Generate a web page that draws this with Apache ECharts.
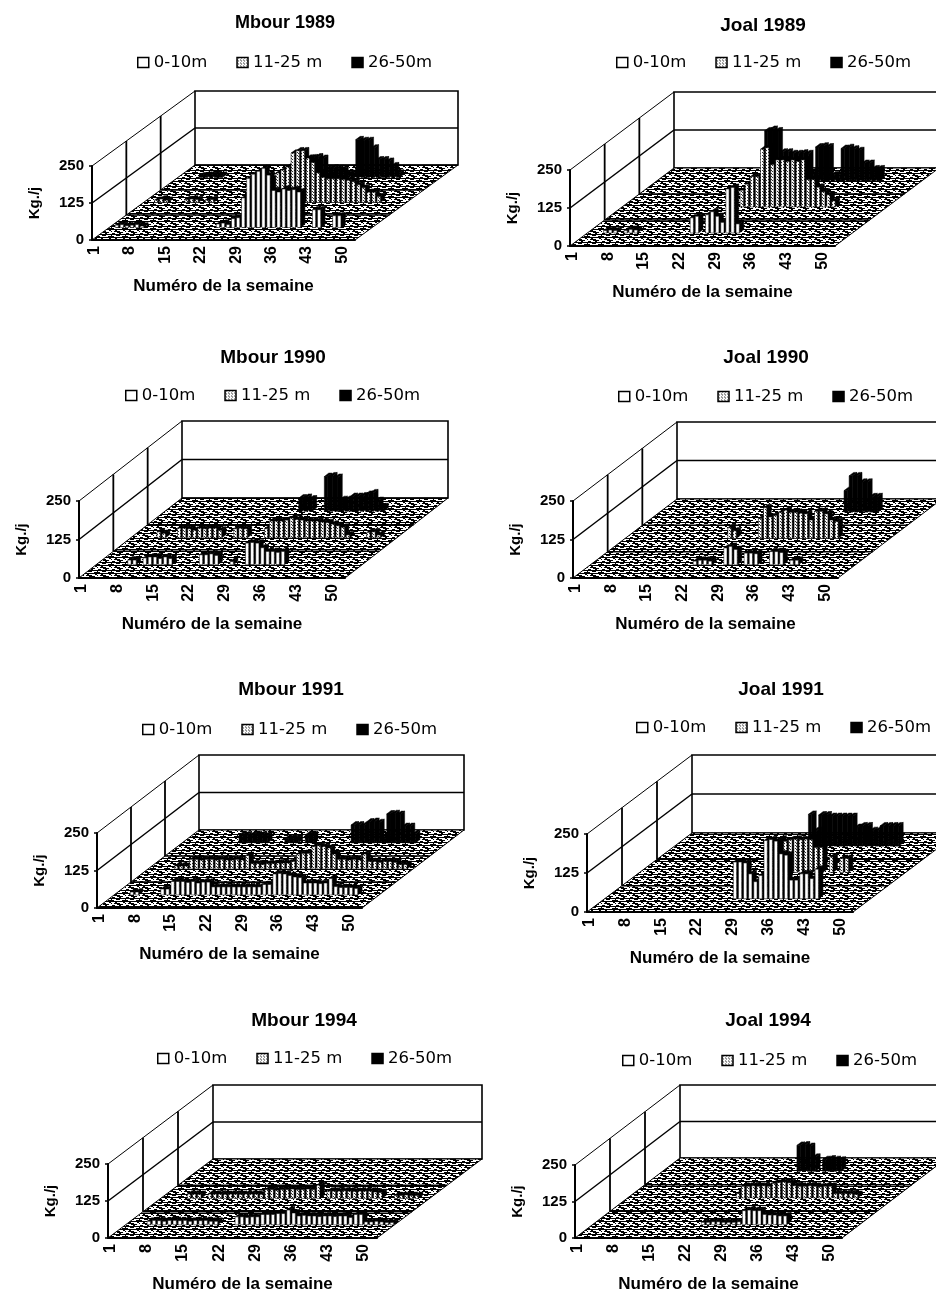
<!DOCTYPE html>
<html>
<head>
<meta charset="utf-8">
<title>Mbour / Joal</title>
<style>
  html, body { margin: 0; padding: 0; background: #fff; }
  #chart { width: 936px; height: 1294px; }
</style>
<script src="https://cdn.jsdelivr.net/npm/echarts@6/dist/echarts.min.js"></script>
</head>
<body>
<div id="chart"></div>
<script>
const weeks = [];
for (let w = 1; w <= 52; w++) weeks.push(String(w));
const depthNames = ['0-10m', '11-25 m', '26-50m'];

// kg/j per week
const mbour1989Shallow = [
  0,8,10,6,8,10,5,0,0,0,0,0,0,
  0,0,0,0,0,0,0,0,12,15,10,30,33,
  100,166,180,190,200,177,125,120,130,125,128,120,0,
  0,60,60,0,0,40,40,0,0,0,0,0,0];
const mbour1989Mid = [
  0,0,8,12,8,0,0,0,10,12,10,0,8,
  10,0,0,0,0,0,0,0,0,0,0,0,80,
  100,110,120,167,175,175,150,135,100,85,80,80,80,
  78,75,70,60,50,35,35,20,0,0,0,0,0];
const mbour1989Deep = [
  0,0,0,0,6,8,10,12,8,0,0,0,0,
  0,0,0,0,0,0,0,0,0,0,0,0,60,
  67,70,65,30,32,30,28,15,15,128,125,125,100,
  60,60,55,40,15,0,0,0,0,0,0,0,0];

const joal1989Shallow = [
  0,0,0,8,10,8,0,8,12,10,0,0,0,
  0,0,0,0,0,0,0,50,55,0,60,70,55,
  35,145,150,30,0,0,0,0,0,0,0,0,0,
  0,0,0,0,0,0,0,0,0,0,0,0,0];
const joal1989Mid = [
  0,0,0,0,0,0,0,0,0,0,0,0,0,
  0,0,0,0,0,0,0,0,0,0,55,75,100,
  100,190,195,140,155,155,150,155,150,155,90,90,65,
  50,40,20,0,0,0,0,0,0,0,0,0,0];
const joal1989Deep = [
  0,0,0,0,0,0,0,0,0,0,0,0,0,
  0,0,0,0,0,0,0,0,165,170,165,95,95,
  90,90,92,90,30,112,115,112,20,20,107,110,105,
  100,58,58,40,40,0,0,0,0,0,0,0,0];

const mbour1990Shallow = [
  0,0,0,0,0,0,15,15,0,22,25,25,20,
  25,20,0,0,0,0,0,32,32,35,30,0,0,
  10,0,0,70,72,70,55,43,43,40,43,0,0,
  0,0,0,0,0,0,0,0,0,0,0,0,0];
const mbour1990Mid = [
  0,0,0,0,0,20,15,0,0,32,32,30,25,
  32,30,32,32,25,0,0,30,32,30,0,0,0,
  30,55,55,55,58,65,60,58,55,55,55,52,50,
  45,40,35,10,0,0,0,18,20,10,0,0,0];
const mbour1990Deep = [
  0,0,0,0,0,0,0,0,0,0,0,0,0,
  0,0,0,0,0,0,0,0,0,0,0,0,0,
  43,45,40,0,0,113,115,110,38,38,48,48,50,
  55,60,35,15,0,0,0,0,0,0,0,0,0];

const joal1990Shallow = [
  0,0,0,0,0,0,0,0,0,0,0,0,0,
  0,0,0,0,0,0,0,12,15,15,12,0,0,
  55,60,50,0,38,38,36,0,0,43,43,40,0,
  15,15,0,0,0,0,0,0,0,0,0,0,0];
const joal1990Mid = [
  0,0,0,0,0,0,0,0,0,0,0,0,0,
  0,0,0,0,0,0,0,35,25,0,0,0,0,
  65,100,70,75,85,92,85,85,82,80,60,88,88,
  80,60,55,0,0,0,0,0,0,0,0,0,0];
const joal1990Deep = [
  0,0,0,0,0,0,0,0,0,0,0,0,0,
  0,0,0,0,0,0,0,0,0,0,0,0,0,
  0,0,0,0,0,0,0,0,0,0,70,118,118,
  97,97,50,50,0,0,0,0,0,0,0,0,0];

const mbour1991Shallow = [
  0,0,0,10,10,0,0,0,0,20,20,45,45,
  45,42,45,40,43,43,27,27,27,27,27,27,27,
  27,27,27,35,35,70,72,70,65,60,58,40,40,
  40,38,40,55,28,25,25,25,22,0,0,0,0];
const mbour1991Mid = [
  0,0,0,0,0,10,10,10,32,32,30,32,32,
  30,32,30,30,32,30,45,18,18,15,18,18,20,
  20,20,25,50,52,52,75,78,75,70,50,32,32,
  30,32,30,50,25,25,22,25,25,22,15,15];
const mbour1991Deep = [
  0,0,0,0,0,0,0,0,0,0,0,27,27,
  25,27,27,25,0,0,0,15,15,15,0,27,27,
  0,0,0,0,0,0,0,60,60,58,70,72,68,
  15,97,98,95,55,55,30,0,0,0,0,0,0];

const joal1991Shallow = [
  0,0,0,0,0,0,0,0,0,0,0,0,0,
  0,0,0,0,0,0,0,0,0,0,0,0,118,
  118,115,80,55,75,187,190,185,144,140,60,60,80,
  80,65,95,0,0,0,0,0,0,0,0,0,0];
const joal1991Mid = [
  0,0,0,0,0,0,0,0,0,0,0,0,0,
  0,0,0,0,0,0,0,0,0,0,0,0,0,
  0,107,100,105,107,105,107,105,80,80,0,50,0,
  45,45,0,0,0,0,0,0,0,0,0,0,0];
const joal1991Deep = [
  0,0,0,0,0,0,0,0,0,0,0,0,0,
  0,0,0,0,0,0,0,0,0,0,0,0,0,
  102,50,100,100,95,95,95,95,95,60,65,65,50,
  50,65,65,65,65,0,0,0,0,0,0,0,0];

const mbour1994Shallow = [
  0,0,0,0,12,15,14,12,15,15,14,15,12,
  15,14,15,12,12,0,0,0,27,27,25,27,27,
  35,35,35,38,38,50,40,30,32,30,30,28,30,
  30,28,30,30,25,35,35,10,10,12,10,8,8];
const mbour1994Mid = [
  0,0,0,0,0,15,15,14,0,15,15,15,14,
  15,15,14,15,15,15,14,30,30,28,30,30,32,
  30,30,32,30,45,0,25,25,25,26,25,24,25,
  25,25,22,20,0,0,10,10,12,10,10,0,0];
const mbour1994Deep = [
  0,0,0,0,0,0,0,0,0,0,0,0,0,
  0,0,0,0,0,0,0,0,0,0,0,0,0,
  0,0,0,0,0,0,0,0,0,0,0,0,0,
  0,0,0,0,0,0,0,0,0,0,0,0,0];

const joal1994Shallow = [
  0,0,0,0,0,0,0,0,0,0,0,0,0,
  0,0,0,0,0,0,0,0,8,8,10,10,8,
  8,8,10,48,50,48,48,35,33,33,30,30,0,
  0,0,0,0,0,0,0,0,0,0,0,0,0];
const joal1994Mid = [
  0,0,0,0,0,0,0,0,0,0,0,0,0,
  0,0,0,0,0,0,0,0,15,40,40,42,40,
  42,40,50,53,55,52,42,40,40,42,40,38,40,
  40,15,15,15,15,12,0,0,0,0,0,0,0];
const joal1994Deep = [
  0,0,0,0,0,0,0,0,0,0,0,0,0,
  0,0,0,0,0,0,0,0,0,0,0,0,0,
  89,90,85,48,0,40,42,40,38,0,0,0,0,
  0,0,0,0,0,0,0,0,0,0,0,0,0];

const panelTitles = ['Mbour 1989', 'Joal 1989', 'Mbour 1990', 'Joal 1990', 'Mbour 1991', 'Joal 1991', 'Mbour 1994', 'Joal 1994'];
const panelSeries = [
  [mbour1989Shallow, mbour1989Mid, mbour1989Deep],
  [joal1989Shallow, joal1989Mid, joal1989Deep],
  [mbour1990Shallow, mbour1990Mid, mbour1990Deep],
  [joal1990Shallow, joal1990Mid, joal1990Deep],
  [mbour1991Shallow, mbour1991Mid, mbour1991Deep],
  [joal1991Shallow, joal1991Mid, joal1991Deep],
  [mbour1994Shallow, mbour1994Mid, mbour1994Deep],
  [joal1994Shallow, joal1994Mid, joal1994Deep]
];

// page layout of each small chart: front plane + how far the floor runs back
const layout = [
  { x: 92,  y: 240,  w: 263, h: 74, dx: 103, dy: -75, titleX: 280, titleY: 23,   legX: 137, legY: 62 },
  { x: 570, y: 246,  w: 265, h: 76, dx: 104, dy: -78, titleX: 758, titleY: 25,   legX: 616, legY: 62 },
  { x: 79,  y: 578,  w: 266, h: 77, dx: 103, dy: -80, titleX: 268, titleY: 357,  legX: 125, legY: 395 },
  { x: 573, y: 578,  w: 265, h: 77, dx: 104, dy: -79, titleX: 761, titleY: 357,  legX: 618, legY: 396 },
  { x: 97,  y: 908,  w: 265, h: 75, dx: 102, dy: -78, titleX: 286, titleY: 689,  legX: 142, legY: 729 },
  { x: 587, y: 912,  w: 266, h: 78, dx: 105, dy: -79, titleX: 776, titleY: 689,  legX: 636, legY: 727 },
  { x: 108, y: 1242, w: 269, h: 78, dx: 105, dy: -79, titleX: 299, titleY: 1020, legX: 157, legY: 1058 },
  { x: 575, y: 1243, w: 267, h: 78, dx: 105, dy: -80, titleX: 763, titleY: 1020, legX: 622, legY: 1060 }
];

const fontName = '"Liberation Sans", Arial, sans-serif';

function makePattern(w, h, bg, fg, dots) {
  const c = document.createElement('canvas');
  c.width = w;
  c.height = h;
  const ctx = c.getContext('2d');
  ctx.fillStyle = bg;
  ctx.fillRect(0, 0, w, h);
  ctx.fillStyle = fg;
  dots.forEach(d => ctx.fillRect(d[0], d[1], d[2], d[3]));
  return { image: c, repeat: 'repeat' };
}

// white worms on black, like the scanned floor fill
const floorFill = makePattern(14, 8, '#000', '#fff', [
  [0, 0, 5, 1], [3, 1, 4, 1], [9, 1, 5, 1], [11, 0, 3, 1],
  [0, 3, 4, 1], [2, 4, 5, 1], [8, 3, 5, 1], [7, 4, 3, 1],
  [0, 6, 3, 1], [5, 6, 6, 1], [8, 7, 5, 1], [13, 6, 1, 1], [0, 7, 2, 1]
]);
const midFill = makePattern(3, 3, '#fff', '#333', [[1, 0, 1, 1], [0, 2, 1, 1]]);
const faceFills = ['#fff', midFill, '#000'];

function wallsRender(panel) {
  return function (params, api) {
    const cs = params.coordSys;
    const x = cs.x, b = cs.y + cs.height, w = cs.width;
    const h = b - api.coord([0, 250])[1];
    const mid = b - api.coord([0, 125])[1];
    const dx = panel.dx, dy = panel.dy;
    const line = (x1, y1, x2, y2, lw) => ({
      type: 'line',
      shape: { x1: x1, y1: y1, x2: x2, y2: y2 },
      style: { stroke: '#000', lineWidth: lw }
    });
    return {
      type: 'group',
      children: [
        {
          type: 'polygon',
          shape: { points: [[x + dx, b + dy], [x + dx + w, b + dy], [x + dx + w, b + dy - h], [x + dx, b + dy - h]] },
          style: { fill: '#fff', stroke: '#000', lineWidth: 1.6 }
        },
        {
          type: 'polygon',
          shape: { points: [[x, b], [x + w, b], [x + w + dx, b + dy], [x + dx, b + dy]] },
          style: { fill: floorFill, stroke: '#000', lineWidth: 1 }
        },
        line(x + dx / 3, b + dy / 3, x + w + dx / 3, b + dy / 3, 1.5),
        line(x + 2 * dx / 3, b + 2 * dy / 3, x + w + 2 * dx / 3, b + 2 * dy / 3, 1.5),
        line(x, b - h, x + dx, b + dy - h, 1),
        line(x, b - mid, x + dx, b + dy - mid, 1.5),
        line(x + dx, b + dy - mid, x + dx + w, b + dy - mid, 1.6),
        line(x + dx / 3, b + dy / 3, x + dx / 3, b + dy / 3 - h, 1.8),
        line(x + 2 * dx / 3, b + 2 * dy / 3, x + 2 * dx / 3, b + 2 * dy / 3 - h, 1.8)
      ]
    };
  };
}

function barsRender(panel, row) {
  const f1 = (row + 0.5) / 3;
  const f2 = (row + 0.63) / 3;
  return function (params, api) {
    const v = api.value(1);
    if (!v) return null;
    const i = api.value(0);
    const base = api.coord([i, 0]);
    const top = api.coord([i, v]);
    const half = api.size([1, 0])[0] * 0.32;
    const ox = panel.dx * f1, oy = panel.dy * f1;
    const sx = panel.dx * (f2 - f1), sy = panel.dy * (f2 - f1);
    const l = base[0] - half + ox, r = base[0] + half + ox;
    const yb = base[1] + oy, yt = top[1] + oy;
    const st = { stroke: '#000', lineWidth: 0.5 };
    return {
      type: 'group',
      children: [
        {
          type: 'polygon',
          shape: { points: [[r, yb], [r + sx, yb + sy], [r + sx, yt + sy], [r, yt]] },
          style: Object.assign({ fill: '#000' }, st)
        },
        {
          type: 'polygon',
          shape: { points: [[l, yt], [r, yt], [r + sx, yt + sy], [l + sx, yt + sy]] },
          style: Object.assign({ fill: '#000' }, st)
        },
        {
          type: 'polygon',
          shape: { points: [[l, yb], [r, yb], [r, yt], [l, yt]] },
          style: Object.assign({ fill: faceFills[row] }, st)
        }
      ]
    };
  };
}

const option = {
  animation: false,
  backgroundColor: '#fff',
  title: [],
  legend: [],
  grid: [],
  xAxis: [],
  yAxis: [],
  series: []
};

layout.forEach((p, k) => {
  option.title.push({
    text: panelTitles[k],
    left: p.titleX,
    top: p.titleY - 14,
    textAlign: 'center',
    textStyle: { fontFamily: fontName, fontWeight: 'bold', fontSize: k === 0 ? 18 : 19, color: '#000' }
  });
  option.legend.push({
    left: p.legX,
    top: p.legY - 8,
    orient: 'horizontal',
    selectedMode: false,
    itemWidth: 11,
    itemHeight: 10,
    itemGap: 29,
    padding: 0,
    textStyle: { fontFamily: '"DejaVu Sans", sans-serif', fontSize: 16.5, color: '#000' },
    data: depthNames.map((n, r) => ({
      name: n,
      icon: 'rect',
      itemStyle: { color: faceFills[r], borderColor: '#000', borderWidth: 1.5 }
    }))
  });
  option.grid.push({ left: p.x, top: p.y - p.h, width: p.w, height: p.h });
  option.xAxis.push({
    type: 'category',
    gridIndex: k,
    data: weeks,
    z: 4,
    name: 'Numéro de la semaine',
    nameLocation: 'middle',
    nameGap: 38,
    nameTextStyle: { fontFamily: fontName, fontWeight: 'bold', fontSize: 17, color: '#000' },
    axisLine: { lineStyle: { color: '#000', width: 2 } },
    axisTick: { interval: 0, length: 3, lineStyle: { color: '#000', width: 1.5 } },
    axisLabel: { interval: 6, rotate: 90, margin: 6, fontFamily: fontName, fontWeight: 'bold', fontSize: 16, color: '#000' },
    splitLine: { show: false }
  });
  option.yAxis.push({
    type: 'value',
    gridIndex: k,
    min: 0,
    max: 250,
    interval: 125,
    z: 4,
    name: 'Kg./j',
    nameLocation: 'middle',
    nameGap: 50,
    nameTextStyle: { fontFamily: fontName, fontWeight: 'bold', fontSize: 15, color: '#000' },
    axisLine: { show: true, lineStyle: { color: '#000', width: 2 } },
    axisTick: { show: true, length: 3, lineStyle: { color: '#000', width: 1.5 } },
    axisLabel: { margin: 8, fontFamily: fontName, fontWeight: 'bold', fontSize: 15, color: '#000' },
    splitLine: { show: false }
  });
  option.series.push({
    type: 'custom',
    xAxisIndex: k,
    yAxisIndex: k,
    silent: true,
    z: 1,
    renderItem: wallsRender(p),
    data: [[0, 0]]
  });
  // back row first so the nearer rows cover it
  [2, 1, 0].forEach(r => {
    option.series.push({
      type: 'custom',
      name: depthNames[r],
      xAxisIndex: k,
      yAxisIndex: k,
      z: 2 + (2 - r),
      itemStyle: { color: r === 2 ? '#000' : '#fff' },
      encode: { x: 0, y: 1 },
      renderItem: barsRender(p, r),
      data: panelSeries[k][r].map((v, i) => [i, v])
    });
  });
});

const chart = echarts.init(document.getElementById('chart'));
chart.setOption(option);
</script>
</body>
</html>
